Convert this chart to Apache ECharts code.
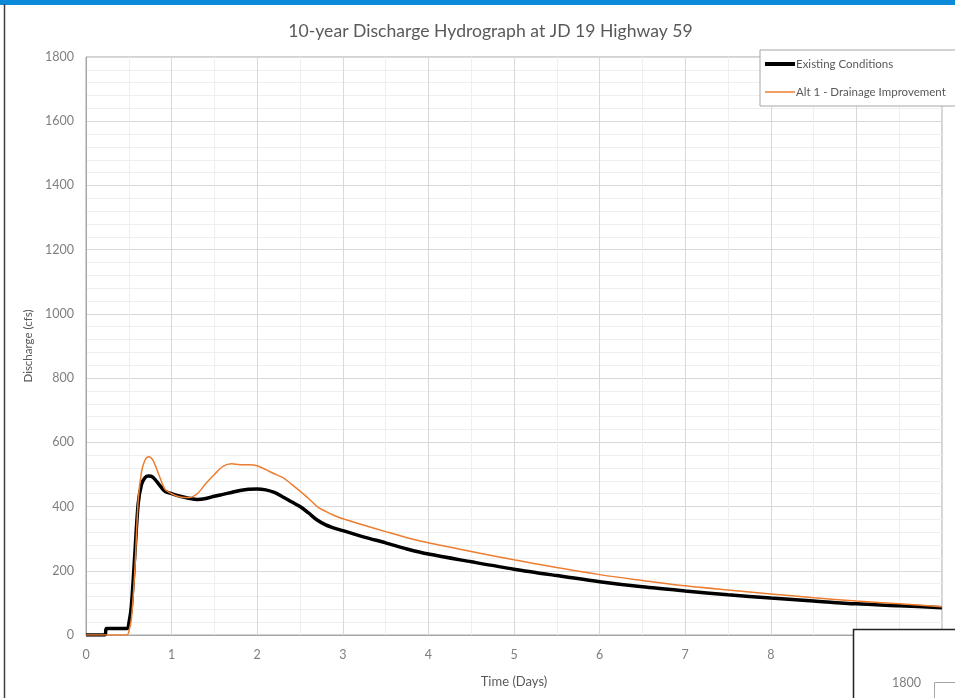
<!DOCTYPE html>
<html>
<head>
<meta charset="utf-8">
<script src="https://cdn.jsdelivr.net/npm/echarts@6/dist/echarts.min.js"></script>
<style>html,body{margin:0;padding:0;background:#fff;}#c{width:955px;height:698px;}</style>
</head>
<body>
<div id="c"></div>
<script>
var timeDays = [0, 0.22, 0.24, 0.48, 0.5, 0.53, 0.57, 0.61, 0.65, 0.69, 0.73, 0.78, 0.85, 0.92, 1.0, 1.1, 1.2, 1.3, 1.4, 1.5, 1.6, 1.7, 1.8, 1.9, 2.0, 2.1, 2.2, 2.3, 2.4, 2.5, 2.6, 2.7, 2.8, 2.9, 3.0, 3.25, 3.5, 3.75, 4.0, 4.5, 5.0, 5.5, 6.0, 6.5, 7.0, 7.5, 8.0, 8.5, 9.0, 9.5, 10.0];
var existing = [0, 0, 20, 20, 35, 90, 250, 410, 470, 490, 495, 492, 470, 448, 440, 432, 426, 422, 425, 432, 438, 444, 450, 454, 455, 452, 444, 430, 415, 400, 380, 358, 343, 333, 325, 305, 287, 268, 252, 228, 205, 185, 166, 150, 137, 125, 115, 106, 97, 91, 85];
var alt1 = [0, 0, 0, 0, 10, 50, 200, 420, 510, 545, 555, 545, 500, 455, 440, 430, 428, 440, 472, 500, 525, 533, 530, 530, 527, 515, 502, 490, 470, 448, 425, 400, 385, 372, 362, 342, 322, 303, 287, 260, 234, 210, 188, 170, 153, 140, 128, 116, 106, 97, 88];
var seriesNames = ['Existing Conditions', 'Alt 1 - Drainage Improvement'];
var titleText = '10-year Discharge Hydrograph at JD 19 Highway 59';

function pairs(ys) { return timeDays.map(function (t, i) { return [t, ys[i]]; }); }

var chart = echarts.init(document.getElementById('c'));
var font = 'Lato, "Open Sans", sans-serif';
chart.setOption({
  animation: false,
  backgroundColor: '#ffffff',
  title: {
    text: titleText, left: 485.5, top: 17, textAlign: 'center',
    textStyle: { fontFamily: font, fontSize: 17.6, fontWeight: 'normal', color: '#595959' }
  },
  legend: {
    orient: 'vertical', left: 760, top: 50, itemGap: 16, itemWidth: 30, itemHeight: 8,
    padding: [8, 40, 8, 5], symbolKeepAspect: true,
    backgroundColor: '#fff', borderColor: '#a6a6a6', borderWidth: 1,
    textStyle: { fontFamily: font, fontSize: 11.5, color: '#595959', padding: [0, 0, 0, -4] },
    data: [
      { name: seriesNames[0], icon: 'path://M0,0H30V4H0Z' },
      { name: seriesNames[1], icon: 'path://M0,0H30V1.5H0Z' }
    ]
  },
  grid: { left: 86, right: 13, top: 57, bottom: 63, show: true, borderColor: '#a6a6a6', borderWidth: 1 },
  xAxis: {
    type: 'value', min: 0, max: 10, interval: 1,
    name: 'Time (Days)', nameLocation: 'middle', nameGap: 40,
    nameTextStyle: { fontFamily: font, fontSize: 13, color: '#595959' },
    axisLine: { lineStyle: { color: '#a6a6a6' } },
    axisTick: { show: false },
    axisLabel: { fontFamily: font, fontSize: 12.5, color: '#7f7f7f', margin: 13 },
    splitLine: { lineStyle: { color: '#d9d9d9' } },
    minorTick: { show: false, splitNumber: 2 },
    minorSplitLine: { show: true, lineStyle: { color: '#efefef' } }
  },
  yAxis: {
    type: 'value', min: 0, max: 1800, interval: 200,
    name: 'Discharge (cfs)', nameLocation: 'middle', nameGap: 45,
    nameTextStyle: { fontFamily: font, fontSize: 11.5, color: '#595959' },
    axisLine: { show: true, lineStyle: { color: '#a6a6a6' } },
    axisTick: { show: false },
    axisLabel: { fontFamily: font, fontSize: 12.5, color: '#7f7f7f', margin: 12, formatter: function (v) { return String(v); } },
    splitLine: { lineStyle: { color: '#d9d9d9' } },
    minorTick: { show: false, splitNumber: 5 },
    minorSplitLine: { show: true, lineStyle: { color: '#efefef' } }
  },
  series: [
    { name: seriesNames[0], type: 'line', data: pairs(existing), showSymbol: false, symbol: 'none', smooth: 0.3,
      lineStyle: { color: '#000000', width: 3.5 }, itemStyle: { color: '#000000' }, z: 3 },
    { name: seriesNames[1], type: 'line', data: pairs(alt1), showSymbol: false, symbol: 'none', smooth: 0.3,
      lineStyle: { color: '#ED7D31', width: 1.5 }, itemStyle: { color: '#ED7D31' }, z: 4 }
  ],
  graphic: [
    { type: 'rect', shape: { x: 0, y: 0, width: 955, height: 5 }, style: { fill: '#0a8ad8' }, z: 100 },
    { type: 'line', shape: { x1: 4.5, y1: 4, x2: 4.5, y2: 698 }, style: { stroke: '#404040', lineWidth: 1.5 }, z: 100 },
    { type: 'rect', shape: { x: 853.5, y: 629.5, width: 120, height: 80 }, style: { fill: '#ffffff', stroke: '#222222', lineWidth: 1.5 }, z: 100 },
    { type: 'text', style: { x: 921, y: 683, text: '1800', fill: '#7f7f7f', font: '12.5px Lato, sans-serif', align: 'right', verticalAlign: 'middle' }, z: 101 },
    { type: 'polyline', shape: { points: [[955, 682.5], [934.5, 682.5], [934.5, 698]] }, style: { stroke: '#a6a6a6', fill: null, lineWidth: 1 }, z: 101 }
  ]
});
</script>
</body>
</html>
